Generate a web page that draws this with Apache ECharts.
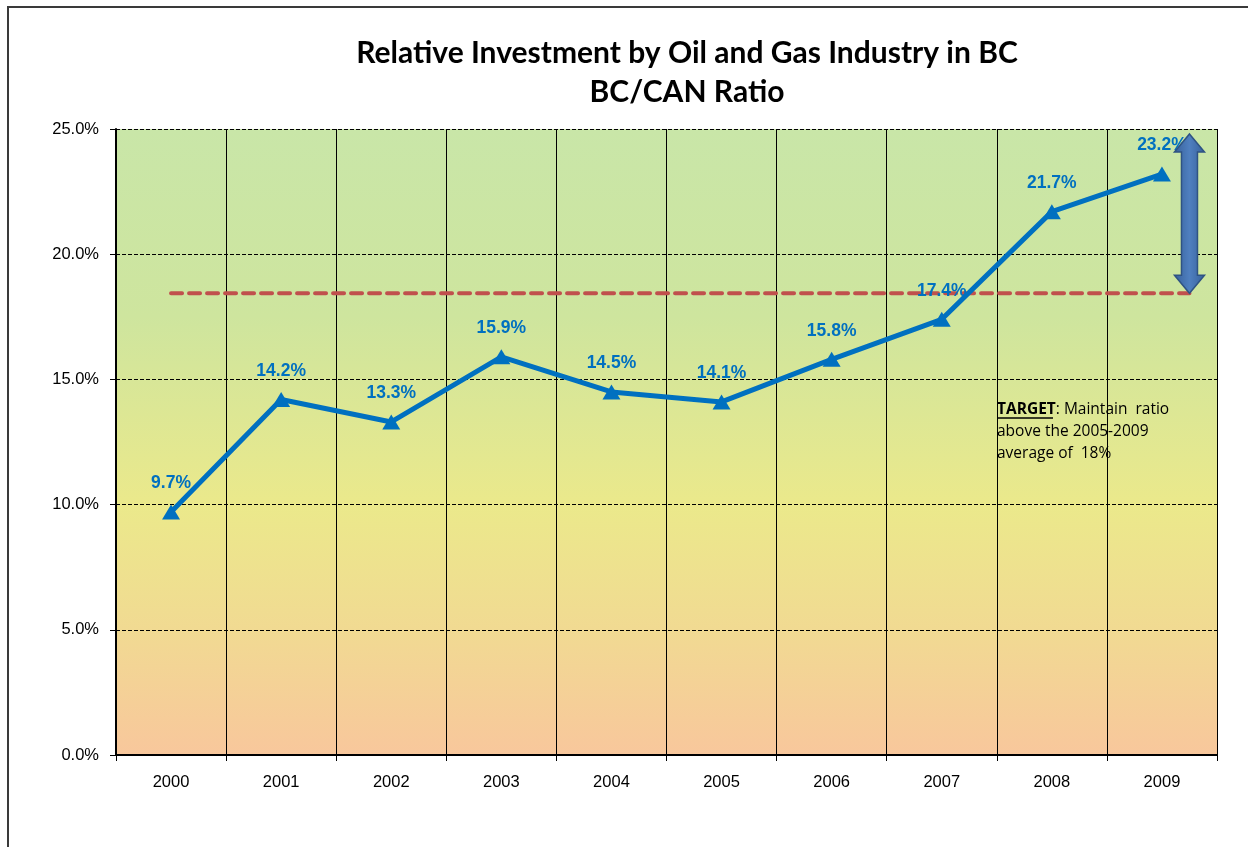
<!DOCTYPE html>
<html>
<head>
<meta charset="utf-8">
<script src="https://cdn.jsdelivr.net/npm/echarts@6/dist/echarts.min.js"></script>
<style>
  html, body { margin: 0; padding: 0; background: #fff; }
  #chart { width: 1248px; height: 847px; }
</style>
</head>
<body>
<div id="chart"></div>
<script>
  // data
  var years = ['2000', '2001', '2002', '2003', '2004', '2005', '2006', '2007', '2008', '2009'];
  var ratio = [9.7, 14.2, 13.3, 15.9, 14.5, 14.1, 15.8, 17.4, 21.7, 23.2];
  var avgValue = 18.44;          // 2005-2009 average
  var avgSpan = [0, 9.25];       // from 2000 to just past 2009 (category index units)
  var arrowSpan = [9.25, 18.44, 24.8]; // x, low, high
  var yTicks = [0, 5, 10, 15, 20, 25];

  var blue = '#0070c0';
  var myChart = echarts.init(document.getElementById('chart'));

  myChart.setOption({
    animation: false,
    title: {
      text: 'Relative Investment by Oil and Gas Industry in BC\nBC/CAN Ratio',
      left: 682,
      textAlign: 'center',
      top: 29,
      textStyle: {
        fontFamily: 'Lato',
        fontWeight: 'bold',
        fontSize: 30,
        lineHeight: 39,
        color: '#000'
      }
    },
    grid: {
      left: 116,
      right: 31,
      top: 129,
      bottom: 92,
      show: true,
      borderWidth: 0,
      backgroundColor: {
        type: 'linear', x: 0, y: 0, x2: 0, y2: 1,
        colorStops: [
          { offset: 0, color: '#c9e6a8' },
          { offset: 0.3, color: '#cee59e' },
          { offset: 0.6, color: '#ebe98b' },
          { offset: 0.8, color: '#f1da92' },
          { offset: 1, color: '#f8c79c' }
        ]
      }
    },
    xAxis: [{
      type: 'category',
      data: years,
      boundaryGap: true,
      axisLine: { lineStyle: { color: '#000', width: 2 } },
      axisTick: { show: true, length: 6, lineStyle: { color: '#000' } },
      axisLabel: { color: '#000', fontFamily: 'Liberation Sans', fontSize: 16.5, margin: 19 },
      splitLine: { show: true, lineStyle: { color: '#000', width: 1 } }
    }, {
      type: 'value',
      show: false,
      min: -0.5,
      max: 9.5
    }],
    yAxis: {
      type: 'value',
      min: 0,
      max: 25,
      interval: 5,
      axisLine: { show: true, onZero: false, lineStyle: { color: '#000', width: 2 } },
      axisTick: { show: true, length: 6, lineStyle: { color: '#000' } },
      axisLabel: {
        color: '#000', fontFamily: 'Liberation Sans', fontSize: 16.5, margin: 17,
        formatter: function (v) { return yTicks.indexOf(v) >= 0 ? v.toFixed(1) + '%' : ''; }
      },
      splitLine: { show: true, lineStyle: { color: '#000', width: 1, type: [4, 2] } }
    },
    series: [{
      name: 'Average',
      type: 'line',
      xAxisIndex: 1,
      data: [[avgSpan[0], avgValue], [avgSpan[1], avgValue]],
      symbol: 'none',
      lineStyle: { color: '#c0504d', width: 4, type: [11, 7], cap: 'round' },
      z: 3
    }, {
      name: 'BC/CAN Ratio',
      type: 'line',
      data: ratio,
      symbol: 'triangle',
      symbolSize: [18, 15],
      itemStyle: { color: blue },
      lineStyle: { color: blue, width: 5 },
      label: {
        show: true,
        position: 'top',
        distance: 12,
        color: blue,
        fontFamily: 'Liberation Sans',
        fontWeight: 'bold',
        fontSize: 17.5,
        formatter: function (p) { return p.value.toFixed(1) + '%'; }
      },
      z: 4
    }, {
      name: 'Gap',
      type: 'custom',
      xAxisIndex: 1,
      data: [arrowSpan],
      renderItem: function (params, api) {
        var top = api.coord([api.value(0), api.value(2)]);
        var bot = api.coord([api.value(0), api.value(1)]);
        var cx = top[0], t = top[1], b = bot[1];
        var hw = 15, sw = 8, hl = 18;
        return {
          type: 'polygon',
          shape: {
            points: [
              [cx, t], [cx + hw, t + hl], [cx + sw, t + hl], [cx + sw, b - hl],
              [cx + hw, b - hl], [cx, b], [cx - hw, b - hl], [cx - sw, b - hl],
              [cx - sw, t + hl], [cx - hw, t + hl]
            ]
          },
          style: {
            fill: {
              type: 'linear', x: 0, y: 0, x2: 1, y2: 0,
              colorStops: [
                { offset: 0, color: '#36609a' },
                { offset: 0.5, color: '#4f7fbf' },
                { offset: 1, color: '#36609a' }
              ]
            },
            stroke: '#2f5383',
            lineWidth: 1.5
          }
        };
      },
      z: 5
    }],
    graphic: [{
      type: 'rect',
      shape: { x: 8, y: 7, width: 1400, height: 1000 },
      style: { fill: 'none', stroke: '#3a3a3a', lineWidth: 2 },
      silent: true
    }, {
      type: 'text',
      left: 997,
      top: 399,
      style: {
        text: '{b|TARGET}: Maintain  ratio\nabove the 2005-2009\naverage of  18%',
        fontFamily: 'Open Sans',
        fontSize: 15.5,
        lineHeight: 22,
        fill: '#000',
        rich: {
          b: { fontFamily: 'Open Sans', fontWeight: 'bold', fontSize: 15.5, lineHeight: 22 }
        }
      },
      z: 6
    }, {
      type: 'line',
      shape: { x1: 997, y1: 418, x2: 1053, y2: 418 },
      style: { stroke: '#000', lineWidth: 1.5 },
      z: 6
    }]
  });
</script>
</body>
</html>
